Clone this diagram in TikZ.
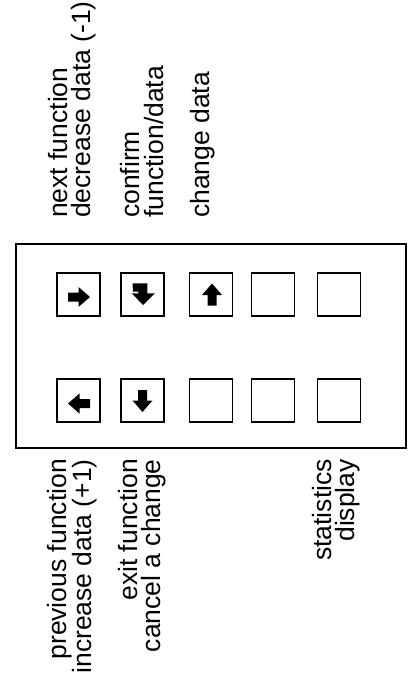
\documentclass[tikz,border=0pt]{standalone}
\usepackage{fontspec}
\setmainfont{Liberation Sans}
\begin{document}
\begin{tikzpicture}[x=1pt,y=1pt,
  btn/.style={draw,line width=1.5pt,minimum size=43pt,inner sep=0pt},
  frame/.style={draw,line width=2pt},
  lbl/.style={rotate=90,inner sep=0pt,font=\fontsize{26.5}{23.5}\selectfont},
  toplbl/.style={lbl,anchor=west,align=left},
  botlbl/.style={lbl,anchor=east,align=right},
  arrowglyph/.pic={\fill (-11,-4.5) -- (-0.5,-4.5) -- (-0.5,-10) -- (11,0) -- (-0.5,10) -- (-0.5,4.5) -- (-11,4.5) -- cycle;}
]
\useasboundingbox (0,0) rectangle (413,-682);
% outer frame
\node[frame,minimum width=390pt,minimum height=204pt,inner sep=0pt] (panel) at (211,-346) {};
% top row buttons
\node[btn] (t1) at (78.5,-294.5) {};
\node[btn] (t2) at (142.5,-294.5) {};
\node[btn] (t3) at (211,-294.5) {};
\node[btn] (t4) at (273,-294.5) {};
\node[btn] (t5) at (339,-294.5) {};
% bottom row buttons
\node[btn] (b1) at (78.5,-400.5) {};
\node[btn] (b2) at (142.5,-400.5) {};
\node[btn] (b3) at (211,-400.5) {};
\node[btn] (b4) at (273,-400.5) {};
\node[btn] (b5) at (339,-400.5) {};
% glyphs
\pic at ([shift={(0.5,-2.5)}]t1.center) {arrowglyph};
\pic[rotate=90] at ([shift={(1,0)}]t3.center) {arrowglyph};
\pic[rotate=180] at ([shift={(0.5,-3)}]b1.center) {arrowglyph};
\pic[rotate=270] at ([shift={(0,-0.5)}]b2.center) {arrowglyph};
\fill ([shift={(-9.8,11.2)}]t2.center) -- ++(14.6,0) -- ++(0,-10) -- ++(7.5,0)
  -- ++(-11.8,-11.7) -- ++(-11.2,11.7) -- ++(6.6,0) -- ++(0,1.6) -- ++(-5.6,0) -- cycle;
% labels
\node[toplbl] (l1) at (72,-218) {next function\\decrease data (-1)};
\node[toplbl] (l2) at (142,-218) {confirm\\function/data};
\node[toplbl] (l3) at (203,-218) {change data};
\node[botlbl] (l4) at (72,-459) {previous function\\increase data (+1)};
\node[botlbl] (l5) at (142,-459) {exit function\\cancel a change};
\node[botlbl] (l6) at (336,-459) {statistics\\display};
\end{tikzpicture}
\end{document}
